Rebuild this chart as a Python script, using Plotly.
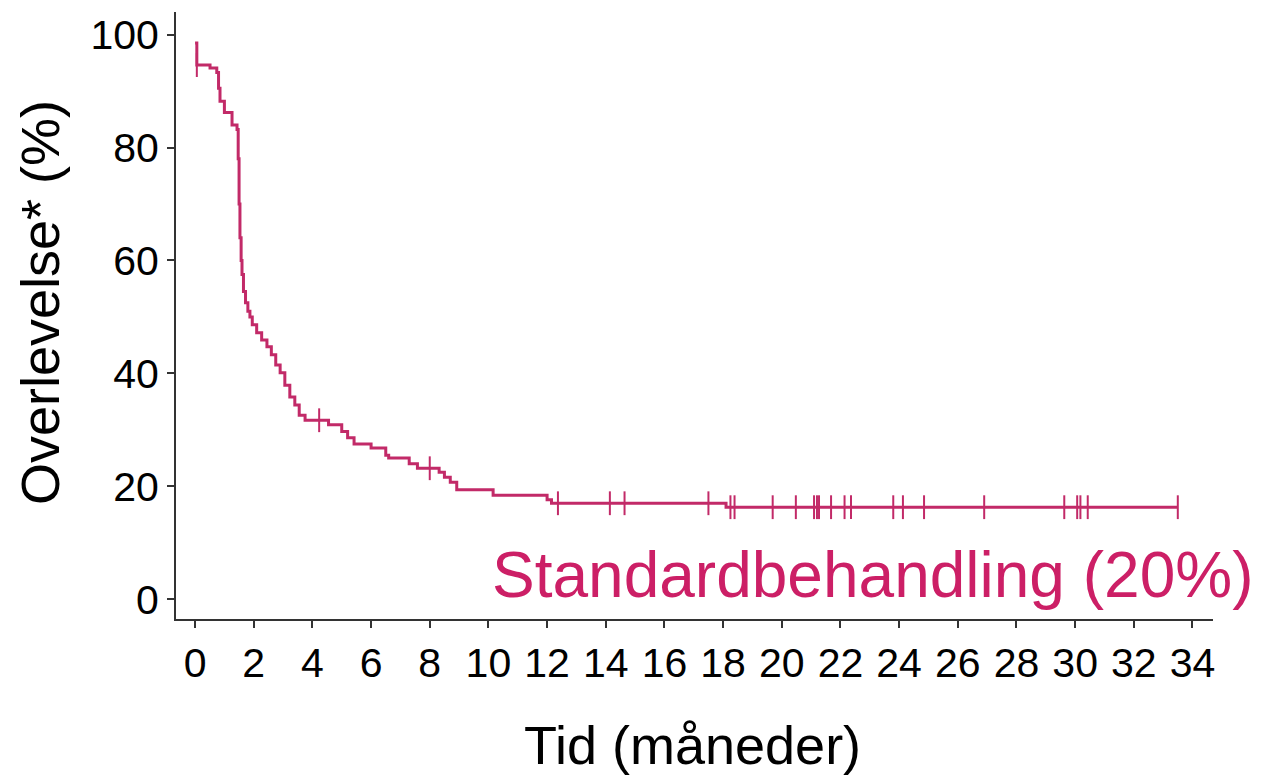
import plotly.graph_objects as go
import numpy as np

# Kaplan-Meier step curve (time in months, survival in %)
times = [0.0, 0.06, 0.51, 0.74, 0.80, 0.85, 1.00, 1.26, 1.43, 1.47, 1.50, 1.53, 1.57, 1.60,
         1.65, 1.72, 1.80, 1.87, 1.95, 2.10, 2.27, 2.45, 2.60, 2.75, 2.90, 3.06, 3.23,
         3.40, 3.55, 3.75, 4.55, 5.00, 5.20, 5.42, 6.00, 6.50, 6.60, 7.30, 7.58, 8.32,
         8.50, 8.70, 8.92, 10.16, 12.00, 12.15, 18.10, 33.50]
survival = [98.5, 94.6, 94.1, 93.3, 90.5, 88.2, 86.2, 84.0, 83.2, 78.0, 70.0, 64.0, 60.0, 57.5,
            54.5, 52.5, 51.0, 50.0, 48.6, 47.2, 45.9, 44.7, 43.3, 41.5, 40.1, 37.9, 35.8,
            34.4, 32.6, 31.7, 30.9, 29.7, 28.6, 27.5, 26.8, 25.5, 25.0, 24.0, 23.2, 22.5,
            21.6, 20.7, 19.4, 18.4, 17.6, 17.0, 16.3, 16.3]

# Censoring times (months)
censor_times = [0.06, 4.23, 8.0, 12.37, 14.14, 14.64, 17.5, 18.25, 18.39, 19.69, 20.48,
                21.1, 21.2, 21.27, 21.68, 22.14, 22.36, 23.8, 24.13, 24.85, 26.9, 29.63,
                30.07, 30.18, 30.43, 33.5]

x_ticks = list(range(0, 35, 2))
y_ticks = [0, 20, 40, 60, 80, 100]

label_text = "Standardbehandling (20%)"
x_title = "Tid (måneder)"
y_title = "Overlevelse* (%)"

line_color = "#c22a68"
text_color = "#cc1f66"
font_family = "Liberation Sans, Arial, sans-serif"

t_arr = np.array(times)
s_arr = np.array(survival)
def surv_at(t):
    idx = np.searchsorted(t_arr, t, side="right") - 1
    return s_arr[max(idx, 0)]
censor_vals = [surv_at(t) for t in censor_times]

fig = go.Figure()
fig.add_trace(go.Scatter(x=times, y=survival, mode="lines", line_shape="hv",
                         line=dict(color=line_color, width=3), hoverinfo="skip",
                         showlegend=False))
fig.add_trace(go.Scatter(x=censor_times, y=censor_vals, mode="markers",
                         marker=dict(symbol="line-ns", size=17,
                                     line=dict(color=line_color, width=2)),
                         showlegend=False))

# page body has an 8px margin: compensate so the plot area lands where the reference has it
fig.update_layout(
    width=1257, height=770,
    margin=dict(l=168, r=52, t=4, b=159),
    paper_bgcolor="white", plot_bgcolor="white",
    font=dict(family=font_family, color="black"),
    xaxis=dict(range=[-0.65, 34.7], tickvals=x_ticks, ticks="outside", ticklen=7,
               tickwidth=1.5, tickcolor="#333", showline=True, linecolor="#333",
               linewidth=2, showgrid=False, zeroline=False,
               tickfont=dict(size=41, color="black")),
    yaxis=dict(range=[-3.5, 104], tickvals=y_ticks, ticks="outside", ticklen=7,
               tickwidth=1.5, tickcolor="#333", showline=True, linecolor="#333",
               linewidth=2, showgrid=False, zeroline=False,
               tickfont=dict(size=41, color="black")),
    annotations=[
        dict(text=label_text, xref="paper", yref="paper", x=1.0405, y=0.0725,
             xanchor="right", yanchor="middle", showarrow=False,
             font=dict(size=64, color=text_color, family=font_family)),
        dict(text=x_title, xref="paper", yref="paper", x=0.4976, y=-0.2076,
             xanchor="center", yanchor="middle", showarrow=False,
             font=dict(size=54, color="black", family=font_family)),
        dict(text=y_title, xref="paper", yref="paper", x=-0.1311, y=0.5206,
             xanchor="center", yanchor="middle", textangle=-90, showarrow=False,
             font=dict(size=54, color="black", family=font_family)),
    ],
)

fig.write_html("out.html")
